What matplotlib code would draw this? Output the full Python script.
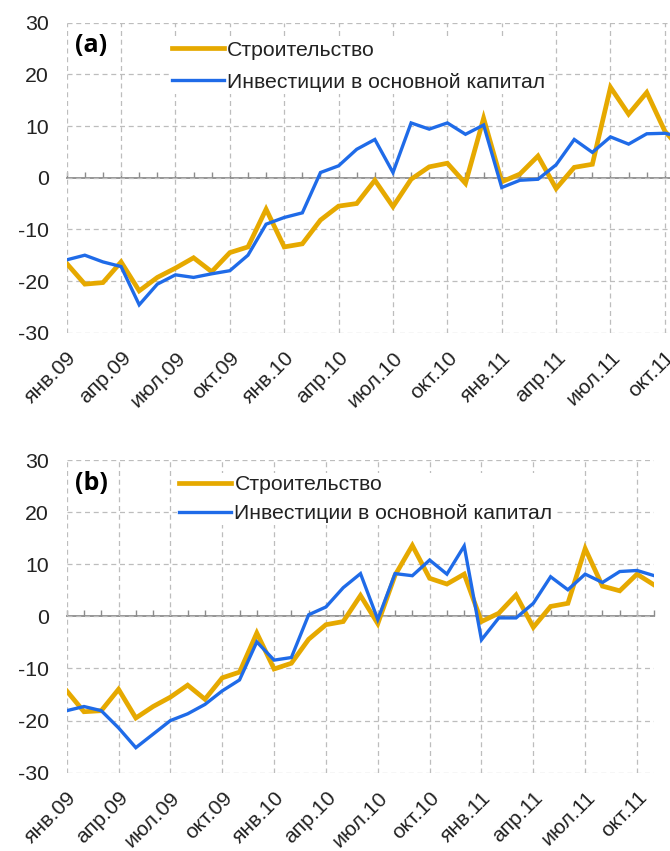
import matplotlib
matplotlib.use("Agg")
import matplotlib.pyplot as plt
from matplotlib.ticker import MultipleLocator, FixedLocator

plt.rcParams['font.family'] = ['Liberation Sans', 'DejaVu Sans']
plt.rcParams['axes.unicode_minus'] = False

months = ["янв.09", "фев.09", "мар.09", "апр.09", "май.09", "июн.09",
          "июл.09", "авг.09", "сен.09", "окт.09", "ноя.09", "дек.09",
          "янв.10", "фев.10", "мар.10", "апр.10", "май.10", "июн.10",
          "июл.10", "авг.10", "сен.10", "окт.10", "ноя.10", "дек.10",
          "янв.11", "фев.11", "мар.11", "апр.11", "май.11", "июн.11",
          "июл.11", "авг.11", "сен.11", "окт.11", "ноя.11"]

tick_labels = ["янв.09", "апр.09", "июл.09", "окт.09", "янв.10", "апр.10",
               "июл.10", "окт.10", "янв.11", "апр.11", "июл.11", "окт.11"]

label_constr = "Строительство"
label_invest = "Инвестиции в основной капитал"

# Panel (a)
constr_a = [-16.6, -20.6, -20.3, -16.3, -21.9, -19.3, -17.5, -15.5, -18.2, -14.5,
            -13.4, -6.1, -13.4, -12.8, -8.2, -5.5, -5.0, -0.5, -5.6, -0.3,
            2.1, 2.8, -1.1, 11.5, -0.8, 0.7, 4.2, -2.1, 2.0, 2.6,
            17.5, 12.3, 16.5, 9.0, 5.0]
invest_a = [-15.9, -15.0, -16.3, -17.2, -24.6, -20.6, -18.8, -19.3, -18.6, -18.0,
            -15.0, -9.0, -7.7, -6.8, 1.0, 2.3, 5.5, 7.4, 1.0, 10.6,
            9.4, 10.6, 8.4, 10.2, -1.9, -0.5, -0.3, 2.5, 7.4, 4.9,
            7.9, 6.5, 8.5, 8.6, 7.8]

# Panel (b)
constr_b = [-14.3, -18.3, -18.1, -14.0, -19.5, -17.3, -15.5, -13.2, -15.9, -11.8,
            -10.7, -3.2, -10.1, -9.0, -4.4, -1.6, -1.0, 4.0, -1.4, 7.9,
            13.6, 7.3, 6.2, 8.1, -1.0, 0.6, 4.1, -2.1, 1.9, 2.5,
            13.0, 5.8, 4.9, 8.1, 6.0]
invest_b = [-18.1, -17.3, -18.1, -21.4, -25.2, -22.6, -20.0, -18.7, -16.9, -14.3,
            -12.2, -4.9, -8.4, -7.9, 0.3, 1.8, 5.5, 8.2, -0.6, 8.2,
            7.8, 10.8, 8.1, 13.5, -4.5, -0.3, -0.3, 2.5, 7.6, 5.1,
            8.1, 6.5, 8.6, 8.8, 7.8]

YELLOW = "#E6A900"
BLUE = "#1F6BE8"
GRID = "#BDBDBD"
ZERO = "#8C8C8C"
FS = 15.3
TXT = "#222222"

fig = plt.figure(figsize=(6.70, 8.51), dpi=100)

def panel(rect, constr, invest, tag, leg_anchor, labelspacing):
    ax = fig.add_axes(rect)
    x = list(range(len(months)))
    ax.plot(x, constr, color=YELLOW, lw=3.4, label=label_constr, zorder=3,
            solid_joinstyle='miter')
    ax.plot(x, invest, color=BLUE, lw=2.4, label=label_invest, zorder=4,
            solid_joinstyle='miter')
    ax.set_xlim(0, len(months) - 1)
    ax.set_ylim(-30, 30)
    ax.yaxis.set_major_locator(MultipleLocator(10))
    ax.xaxis.set_major_locator(FixedLocator(list(range(0, len(months), 3))))
    ax.set_xticklabels(tick_labels, rotation=45, ha='right',
                       rotation_mode='anchor', fontsize=FS, color=TXT)
    ax.tick_params(axis='x', length=0, pad=11)
    ax.tick_params(axis='y', length=0, pad=13, labelsize=FS, labelcolor=TXT)
    for s in ax.spines.values():
        s.set_visible(False)
    ax.grid(True, color=GRID, linestyle=(0, (4, 3)), linewidth=0.9, zorder=0)
    ax.set_axisbelow(True)
    # zero line with monthly ticks
    sec = ax.secondary_xaxis(0.5)
    sec.spines['top'].set_color(ZERO)
    sec.spines['top'].set_linewidth(1.3)
    sec.spines['bottom'].set_visible(False)
    sec.xaxis.set_major_locator(FixedLocator(list(range(0, len(months), 3))))
    sec.xaxis.set_minor_locator(MultipleLocator(1))
    sec.tick_params(which='both', direction='out', length=4.5, width=1.0,
                    color=ZERO, labeltop=False, labelbottom=False)
    ax.text(0.014, 0.925, tag, transform=ax.transAxes, fontsize=18,
            fontweight='bold', family=['Open Sans', 'DejaVu Sans'],
            va='center', ha='left')
    leg = ax.legend(loc='upper left', bbox_to_anchor=leg_anchor, frameon=True,
                    fontsize=FS, handlelength=2.45, handletextpad=0.15,
                    borderaxespad=0, borderpad=0.1, labelspacing=labelspacing)
    leg.get_frame().set_edgecolor('none')
    leg.get_frame().set_facecolor('white')
    leg.get_frame().set_alpha(1)
    for t in leg.get_texts():
        t.set_color(TXT)
    return ax

# panel (a): extends beyond right edge (cropped)
panel([66.7/670, 1 - 332.7/851, (683 - 66.7)/670, 310/851], constr_a, invest_a,
      "(a)", ((170 - 66.7)/616.3, 1 - (38.5 - 22.7)/310), 0.62)
# panel (b)
panel([66.7/670, 1 - 772.7/851, (654.3 - 66.7)/670, 312.7/851], constr_b, invest_b,
      "(b)", ((177 - 66.7)/587.6, 1 - (473 - 460)/312.7), 0.48)

fig.savefig("out.png", dpi=100)
